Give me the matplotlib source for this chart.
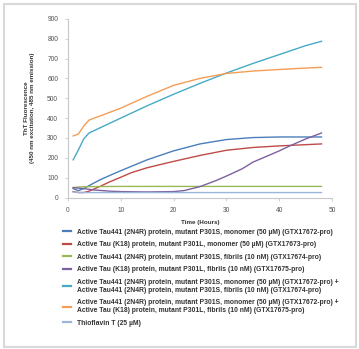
import matplotlib.pyplot as plt
from matplotlib.patches import Rectangle

# Time points (hours) and ThT fluorescence readings
hours_blue = [1, 2, 3, 4, 6, 8, 10, 15, 20, 25, 30, 35, 40, 48]
tau441_mono = [45, 35, 45, 60, 88, 112, 135, 190, 235, 270, 292, 302, 305, 305]

hours_red = [1, 2, 3, 4, 6, 8, 10, 12, 15, 20, 25, 30, 35, 40, 48]
k18_mono = [30, 25, 25, 32, 55, 80, 102, 125, 150, 182, 212, 238, 252, 260, 270]

hours_green = [1, 2, 4, 10, 20, 30, 40, 48]
tau441_fib = [50, 53, 55, 56, 56, 56, 56, 56]

hours_purple = [1, 3, 5, 8, 10, 15, 20, 22, 25, 28, 30, 33, 35, 38, 40, 42, 45, 48]
k18_fib = [50, 45, 38, 32, 30, 28, 30, 35, 55, 85, 108, 145, 178, 212, 235, 260, 295, 325]

hours_teal = [1, 2, 3, 4, 6, 8, 10, 15, 20, 25, 30, 35, 40, 45, 48]
mono_plus_tau441_fib = [190, 240, 295, 325, 350, 375, 400, 462, 520, 575, 627, 675, 720, 765, 787]

hours_orange = [1, 2, 3, 4, 6, 8, 10, 15, 20, 25, 30, 35, 40, 45, 48]
mono_plus_k18_fib = [310, 320, 360, 390, 410, 430, 450, 510, 565, 600, 625, 637, 645, 652, 656]

hours_tht = [1, 2, 4, 10, 20, 30, 40, 48]
tht_only = [28, 26, 25, 25, 25, 25, 25, 25]

labels = [
    "Active Tau441 (2N4R) protein, mutant P301S, monomer (50 \u00b5M) (GTX17672-pro)",
    "Active Tau (K18) protein, mutant P301L, monomer (50 \u00b5M) (GTX17673-pro)",
    "Active Tau441 (2N4R) protein, mutant P301S, fibrils (10 nM) (GTX17674-pro)",
    "Active Tau (K18) protein, mutant P301L, fibrils (10 nM) (GTX17675-pro)",
    "Active Tau441 (2N4R) protein, mutant P301S, monomer (50 \u00b5M) (GTX17672-pro) +\n"
    "Active Tau441 (2N4R) protein, mutant P301S, fibrils (10 nM) (GTX17674-pro)",
    "Active Tau441 (2N4R) protein, mutant P301S, monomer (50 \u00b5M) (GTX17672-pro) +\n"
    "Active Tau (K18) protein, mutant P301L, fibrils (10 nM) (GTX17675-pro)",
    "Thioflavin T (25 \u00b5M)",
]
colors = ["#4a7ebb", "#be4b48", "#98b954", "#7d60a0", "#46aac5", "#f59d56", "#9cb6da"]

series = [
    (hours_blue, tau441_mono),
    (hours_red, k18_mono),
    (hours_green, tau441_fib),
    (hours_purple, k18_fib),
    (hours_teal, mono_plus_tau441_fib),
    (hours_orange, mono_plus_k18_fib),
    (hours_tht, tht_only),
]

plt.rcParams['font.family'] = ['Liberation Sans', 'DejaVu Sans']

fig = plt.figure(figsize=(3.59, 3.49), dpi=100)
ax = fig.add_axes([0.189, 0.434, 0.736, 0.512])

lines = []
for (x, y), c, lab in zip(series, colors, labels):
    ln, = ax.plot(x, y, color=c, lw=1.0, label=lab)
    lines.append(ln)

ax.set_xlim(0, 50)
ax.set_ylim(0, 900)
ax.set_xticks(range(0, 51, 10))
ax.set_yticks(range(0, 901, 100))
for s in ['top', 'right']:
    ax.spines[s].set_visible(False)
for s in ['left', 'bottom']:
    ax.spines[s].set_color('#c8c8c8')
    ax.spines[s].set_linewidth(0.8)
ax.tick_params(labelsize=4.8, colors='#c8c8c8', labelcolor='#555555', length=2, width=0.6, pad=5)

ax.set_xlabel("Time (Hours)", fontsize=4.5, fontweight='bold', color='#333333', labelpad=4)
ax.set_ylabel("ThT Fluorescence\n(450 nm excitation, 485 nm emission)", fontsize=4.5,
              fontweight='bold', color='#333333', labelpad=9)

leg = fig.legend(handles=lines, loc='upper left', bbox_to_anchor=(0.165, 0.354), frameon=False,
                 prop={'size': 4.9, 'weight': 'bold'}, labelcolor='#333333',
                 handlelength=1.3, handletextpad=0.8, labelspacing=0.8, borderpad=0)
for h in leg.get_lines():
    h.set_linewidth(1.6)
for t in leg.get_texts():
    t.set_linespacing(1.2)

# light grey frame around the whole picture
fig.patches.append(Rectangle((4 / 359, 2 / 349), 352 / 359, 343 / 349, transform=fig.transFigure,
                             fill=False, edgecolor='#d9d9d9', lw=1.5))

fig.savefig("out.png", dpi=100)
